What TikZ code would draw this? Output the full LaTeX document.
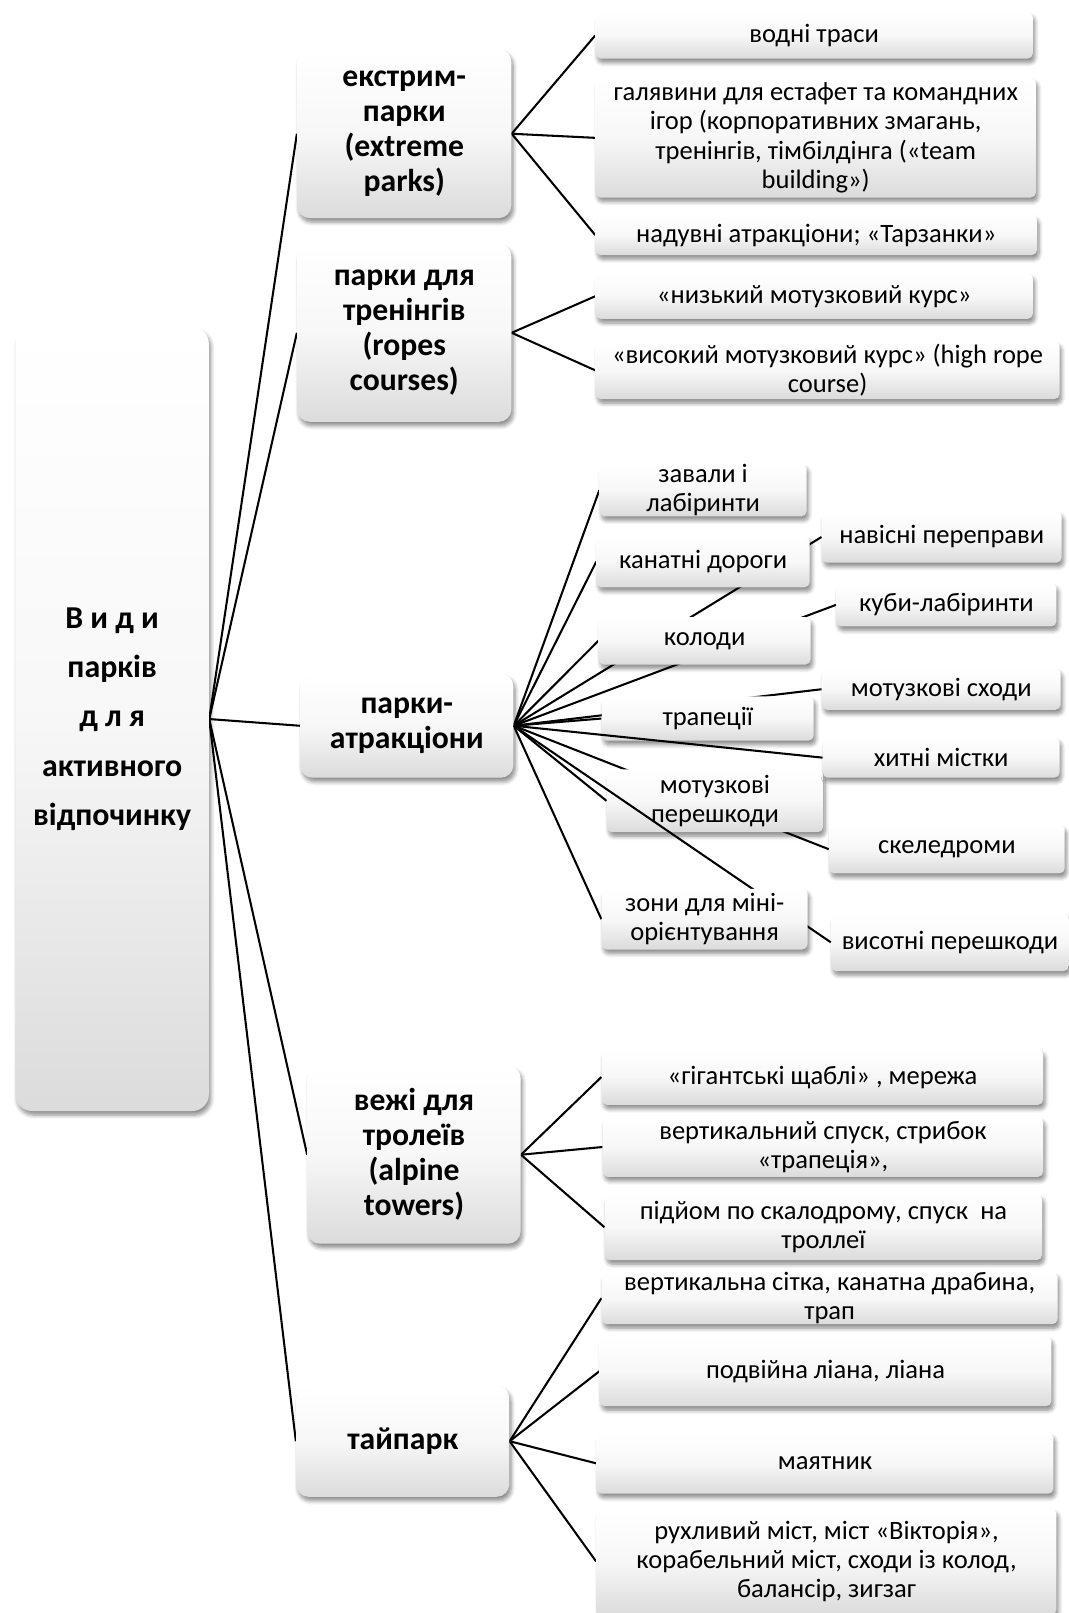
\documentclass[tikz,border=0pt]{standalone}
\usepackage{fontspec}
\setmainfont{Carlito}
\usetikzlibrary{shadows.blur}
\pgfdeclarelayer{background}
\pgfsetlayers{background,main}
\tikzset{
  box/.style={rounded corners=2.5pt,top color=white,bottom color=black!14,middle color=white!97!black,
    blur shadow={shadow xshift=1pt,shadow yshift=-2pt,shadow blur steps=6,shadow opacity=45},
    align=center,inner xsep=2pt,inner ysep=0pt,font=\fontsize{12.9}{14.3}\selectfont},
  topic/.style={box,rounded corners=6pt,font=\bfseries\fontsize{15.4}{17}\selectfont},
  rootbox/.style={box,rounded corners=8pt,font=\bfseries\fontsize{15.5}{24}\selectfont},
  wh/.style 2 args={minimum width=#1*.5pt,minimum height=#2*.5pt},
  link/.style={line width=1pt}}
\begin{document}
\begin{tikzpicture}[x=.5pt,y=-.5pt]
\useasboundingbox (0,0) rectangle (1039,1568);
\node[rootbox,wh={188}{762}] (root) at (109,699) {В и д и\\парків\\д л я\\активного\\відпочинку};
\node[topic,wh={208}{164}] (extreme) at (393,130) {екстрим-\\парки\\(extreme\\parks)};
\node[topic,wh={208}{173}] (ropes) at (393,323.5) {парки для\\тренінгів\\(ropes\\courses)};
\node[topic,wh={207}{101}] (attr) at (395.5,705.5) {парки-\\атракціони};
\node[topic,wh={207}{173}] (towers) at (402.5,1122.5) {вежі для\\тролеїв\\(alpine\\towers)};
\node[topic,wh={207}{108}] (tai) at (391.5,1401) {тайпарк};
% extreme parks
\node[box,wh={425}{45}] (water) at (791.5,34.5) {водні траси};
\node[box,wh={428}{116}] (glade) at (793,134) {галявини для естафет та командних\\ігор (корпоративних змагань,\\тренінгів, тімбілдінга («team\\building»)};
\node[box,wh={429}{39}] (inflat) at (793.5,228.5) {надувні атракціони; «Тарзанки»};
% ropes courses
\node[box,wh={425}{44}] (low) at (791.5,288) {«низький мотузковий курс»};
\node[box,wh={451}{56}] (high) at (804.5,360) {«високий мотузковий курс» (high rope\\course)};
% attractions
\node[box,wh={201}{51}] (ruins) at (683.5,476.5) {завали і\\лабіринти};
\node[box,wh={207}{50}] (cable) at (683.5,546) {канатні дороги};
\node[box,wh={206}{46}] (logs) at (685,623) {колоди};
\node[box,wh={206}{43}] (trap) at (688,698.5) {трапеції};
\node[box,wh={210}{61}] (obst) at (695,778.5) {мотузкові\\перешкоди};
\node[box,wh={233}{50}] (cross) at (915.5,522) {навісні переправи};
\node[box,wh={214}{42}] (cubes) at (920,588) {куби-лабіринти};
\node[box,wh={232}{40}] (ladder) at (915,670) {мотузкові сходи};
\node[box,wh={230}{39}] (sway) at (915,736.5) {хитні містки};
\node[box,wh={229}{47}] (climb) at (920.5,825.5) {скеледроми};
\node[box,wh={231}{56}] (highobst) at (923.5,916) {висотні перешкоди};
\draw[link] (attr.east) -- (sway.west);
\draw[link] (attr.east) -- (highobst.west);
\node[box,wh={200}{59}] (orient) at (685,893.5) {зони для міні-\\орієнтування};
% alpine towers
\node[box,wh={429}{54}] (steps) at (799.5,1047) {«гігантські щаблі» , мережа};
\node[box,wh={428}{58}] (drop) at (800,1115) {вертикальний спуск, стрибок\\«трапеція»,};
\node[box,wh={425}{64}] (wall) at (800.5,1193) {підйом по скалодрому, спуск\ \ на\\троллеї};
% taipark
\node[box,wh={443}{50}] (net) at (806.5,1262) {вертикальна сітка, канатна драбина,\\трап};
\node[box,wh={439}{68}] (liana) at (802.5,1333) {подвійна ліана, ліана};
\node[box,wh={444}{59}] (pend) at (802,1422.5) {маятник};
\node[box,wh={447}{103}] (bridge) at (803.5,1518) {рухливий міст, міст «Вікторія»,\\корабельний міст, сходи із колод,\\балансір, зигзаг};
\begin{pgfonlayer}{background}
\foreach \t in {extreme,ropes,attr,towers,tai} \draw[link] (root.east) -- (\t.west);
\foreach \t in {water,glade,inflat} \draw[link] (extreme.east) -- (\t.west);
\foreach \t in {low,high} \draw[link] (ropes.east) -- (\t.west);
\foreach \t in {ruins,cable,logs,trap,obst,orient,cross,cubes,ladder,climb} \draw[link] (attr.east) -- (\t.west);
\foreach \t in {steps,drop,wall} \draw[link] (towers.east) -- (\t.west);
\foreach \t in {net,liana,pend,bridge} \draw[link] (tai.east) -- (\t.west);
\end{pgfonlayer}
\end{tikzpicture}
\end{document}
